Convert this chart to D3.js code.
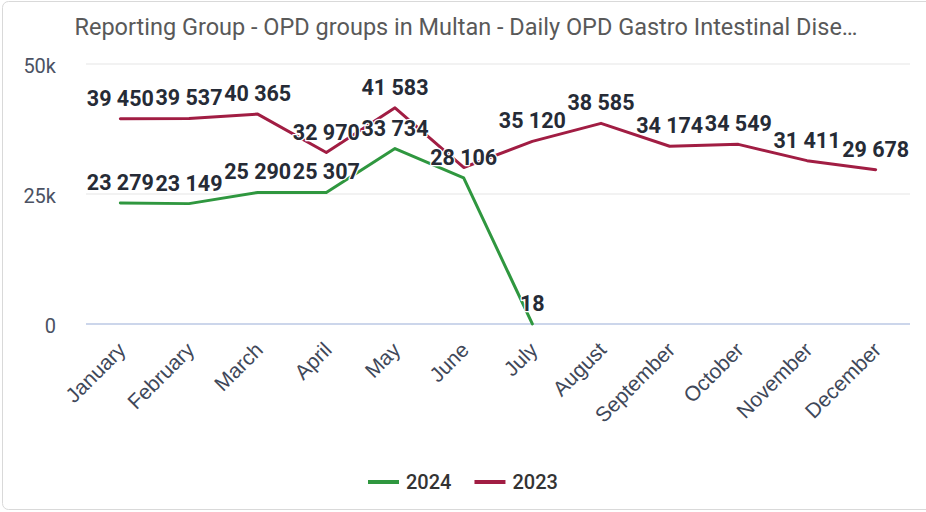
<!DOCTYPE html>
<html>
<head>
<meta charset="utf-8">
<script src="https://cdn.jsdelivr.net/npm/d3@7"></script>
<style>
  body { margin: 0; background: #fff; }
  svg { display: block; font-family: Roboto, sans-serif; }
</style>
</head>
<body>
<svg></svg>
<script>
var months = ["January","February","March","April","May","June","July","August","September","October","November","December"]
var values2024 = [23279, 23149, 25290, 25307, 33734, 28106, 18]
var values2023 = [39450, 39537, 40365, 32970, 41583, 30100, 35120, 38585, 34174, 34549, 31411, 29678]
var yTicks = [0, 25000, 50000]
var yTickLabels = ["0", "25k", "50k"]

var seriesList = [
  {name: "2024", color: "#2f973f", values: values2024},
  {name: "2023", color: "#a11d43", values: values2023}
]

var screen = {width: 926, height: 512}
var plot = {left: 86, right: 910, top: 64, bottom: 324}

var svg = d3.select("svg")
  .attr("width", screen.width)
  .attr("height", screen.height)

// card border
svg.append("rect")
  .attr("x", 2.5).attr("y", 1.5)
  .attr("width", 940).attr("height", 508)
  .attr("rx", 6)
  .attr("fill", "none")
  .attr("stroke", "#d9d9d9")

svg.append("text")
  .attr("x", 466).attr("y", 34.5)
  .attr("text-anchor", "middle")
  .attr("font-size", 23.5)
  .attr("fill", "#595959")
  .text("Reporting Group - OPD groups in Multan - Daily OPD Gastro Intestinal Dise\u2026")

var xScale = d3.scalePoint()
  .domain(months)
  .range([plot.left, plot.right])
  .padding(0.5)

var yScale = d3.scaleLinear()
  .domain([0, 50000])
  .range([plot.bottom, plot.top])

// grid lines
svg.append("g").selectAll("line")
  .data(yTicks.filter(function(d){ return d > 0 }))
  .enter().append("line")
  .attr("x1", plot.left).attr("x2", plot.right)
  .attr("y1", function(d){ return yScale(d) })
  .attr("y2", function(d){ return yScale(d) })
  .attr("stroke", "#eeeeee")
  .attr("stroke-width", 1.5)

var yAxis = d3.axisLeft(yScale)
  .tickValues(yTicks)
  .tickFormat(function(d, i){ return yTickLabels[i] })
  .tickSize(0)
  .tickPadding(30)

var yG = svg.append("g")
  .attr("transform", "translate(" + plot.left + ",2)")
  .call(yAxis)
yG.select(".domain").remove()
yG.selectAll("text")
  .attr("font-family", "Roboto, sans-serif")
  .attr("font-size", 20)
  .attr("fill", "#4b5263")

// x axis line
var xAxis = d3.axisBottom(xScale).tickSize(0).tickPadding(0)
var xG = svg.append("g")
  .attr("transform", "translate(0," + plot.bottom + ")")
  .call(xAxis)
xG.select(".domain").remove()
xG.append("line")
  .attr("x1", plot.left).attr("x2", plot.right)
  .attr("stroke", "#ccd6eb").attr("stroke-width", 2)
xG.selectAll(".tick text")
  .attr("font-family", "'Liberation Sans', Arial, sans-serif")
  .attr("font-size", 21)
  .attr("fill", "#3f4859")
  .attr("text-anchor", "end")
  .attr("dy", "0.35em")
  .attr("y", 0)
  .attr("transform", "translate(1,22) rotate(-45)")

var line = d3.line()
  .x(function(d, i){ return xScale(months[i]) })
  .y(function(d){ return yScale(d) })

seriesList.forEach(function(s){
  svg.append("path")
    .datum(s.values)
    .attr("fill", "none")
    .attr("stroke", s.color)
    .attr("stroke-width", 3)
    .attr("stroke-linejoin", "round")
    .attr("stroke-linecap", "round")
    .attr("d", line)
})

// data labels, hide the ones that collide with already placed labels
var fmt = function(v){ return d3.format(",")(v).replace(/,/g, " ") }
var placed = []
var labelG = svg.append("g")
seriesList.forEach(function(s){
  s.values.forEach(function(v, i){
    var t = labelG.append("text")
      .attr("x", xScale(months[i]))
      .attr("y", yScale(v) - 13)
      .attr("text-anchor", "middle")
      .attr("font-size", 21.5)
      .attr("font-weight", "bold")
      .attr("fill", "#262b36")
      .attr("stroke", "#fff")
      .attr("stroke-width", 2.5)
      .attr("stroke-linejoin", "round")
      .attr("paint-order", "stroke")
      .text(fmt(v))
    var b = t.node().getBBox()
    var box = {x0: b.x + 5, x1: b.x + b.width - 5, y0: b.y + 3, y1: b.y + b.height - 3}
    var hit = placed.some(function(p){
      return box.x0 < p.x1 && box.x1 > p.x0 && box.y0 < p.y1 && box.y1 > p.y0
    })
    if (hit) t.remove()
    else placed.push(box)
  })
})

// legend
var legend = svg.append("g").attr("transform", "translate(368,482)")
var lx = 0
seriesList.forEach(function(s){
  var item = legend.append("g").attr("transform", "translate(" + lx + ",0)")
  item.append("line")
    .attr("x1", 0).attr("x2", 31)
    .attr("stroke", s.color).attr("stroke-width", 4)
  var t = item.append("text")
    .attr("x", 38).attr("dy", "0.35em")
    .attr("font-size", 20)
    .attr("font-weight", 500)
    .attr("fill", "#333333")
    .text(s.name)
  lx += 38 + t.node().getBBox().width + 23
})
</script>
</body>
</html>
